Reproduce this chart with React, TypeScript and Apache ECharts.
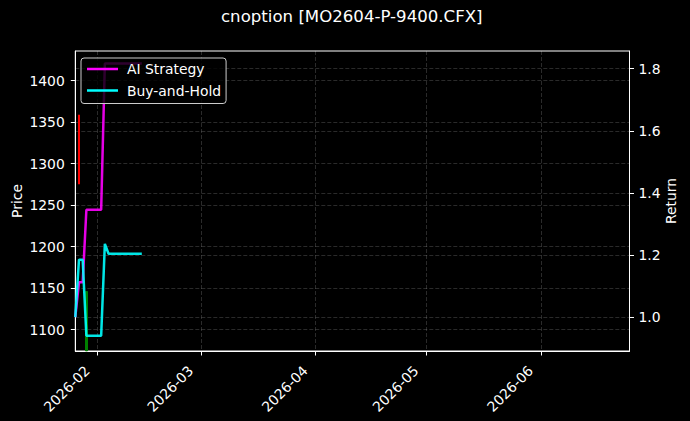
import { useEffect, useRef } from 'react'
import * as echarts from 'echarts'

const lineDates = [
  '2026-01-26', '2026-01-27', '2026-01-28', '2026-01-29', '2026-01-30',
  '2026-02-02', '2026-02-03', '2026-02-04', '2026-02-05', '2026-02-06',
  '2026-02-09', '2026-02-10', '2026-02-11', '2026-02-12', '2026-02-13',
]
const aiStrategy = [1.0, 1.112, 1.112, 1.346, 1.346, 1.346, 1.817, 1.817, 1.817, 1.817, 1.817, 1.817, 1.817, 1.817, 1.817]
const buyAndHold = [1.0, 1.185, 1.185, 0.94, 0.94, 0.94, 1.236, 1.204, 1.204, 1.204, 1.204, 1.204, 1.204, 1.204, 1.204]

const candleDates = ['2026-01-27', '2026-01-29']
const candleOpen = [1275.5, 1146]
const candleClose = [1358.7, 1074.5]
const candleLow = [1275.5, 1074.5]
const candleHigh = [1358.7, 1146]

const priceTicks = [1100, 1150, 1200, 1250, 1300, 1350, 1400]
const returnTicks = [1.0, 1.2, 1.4, 1.6, 1.8]
const monthTicks = ['2026-02-01', '2026-03-01', '2026-04-01', '2026-05-01', '2026-06-01']

const toTime = (s: string) => {
  const [y, m, d] = s.split('-').map(Number)
  return new Date(y, m - 1, d).getTime()
}

const FONT = 'DejaVu Sans'
const gridLine = { show: true, lineStyle: { color: 'rgba(255,255,255,0.28)', width: 0.6, type: [4, 2] as number[] } }
const tick = { show: true, length: 4.5, lineStyle: { color: '#fff' } }

export default function App() {
  const chartRef = useRef<HTMLDivElement>(null)

  useEffect(() => {
    document.body.style.margin = '0'
    if (!chartRef.current) return
    const chart = echarts.init(chartRef.current, null, { renderer: 'svg' })

    chart.setOption({
      animation: false,
      backgroundColor: '#000',
      textStyle: { fontFamily: FONT },
      title: {
        text: 'cnoption [MO2604-P-9400.CFX]',
        left: 221,
        top: 8,
        padding: 0,
        textStyle: { color: '#fff', fontSize: 16.6, fontWeight: 'normal', fontFamily: FONT },
      },
      legend: {
        orient: 'vertical',
        left: 81,
        top: 58,
        padding: [3, 5, 5, 6],
        itemGap: 5.5,
        itemWidth: 31,
        itemHeight: 2.5,
        icon: 'rect',
        backgroundColor: 'rgba(0,0,0,0.8)',
        borderColor: '#cccccc',
        borderWidth: 1,
        borderRadius: 3,
        textStyle: { color: '#fff', fontSize: 13.9, fontFamily: FONT, lineHeight: 16, padding: [0, 0, 0, 4] },
        data: ['AI Strategy', 'Buy-and-Hold'],
      },
      grid: {
        left: 75.3,
        right: 60.5,
        top: 51,
        bottom: 70,
        outerBoundsMode: 'none',
        containLabel: false,
        show: true,
        borderColor: '#fff',
        borderWidth: 1,
      },
      xAxis: {
        type: 'value',
        min: toTime('2026-01-26'),
        max: toTime('2026-06-25'),
        axisLine: { show: true, lineStyle: { color: '#fff' } },
        axisTick: { ...tick, customValues: monthTicks.map(toTime) },
        axisLabel: {
          color: '#fff',
          fontSize: 13.9,
          fontFamily: FONT,
          rotate: 45,
          margin: 7,
          padding: [0, 14.5, 0, 0],
          customValues: monthTicks.map(toTime),
          formatter: (v: number) => {
            const d = new Date(v)
            return `${d.getFullYear()}-${String(d.getMonth() + 1).padStart(2, '0')}`
          },
        },
        splitLine: gridLine,
      },
      yAxis: [
        {
          type: 'value',
          name: 'Price',
          nameLocation: 'middle',
          nameGap: 51,
          nameRotate: 90,
          nameMoveOverlap: false,
          nameTextStyle: { color: '#fff', fontSize: 13.9, fontFamily: FONT },
          min: 1074.3,
          max: 1435.8,
          position: 'left',
          axisLine: { show: true, lineStyle: { color: '#fff' } },
          axisTick: { ...tick, customValues: priceTicks },
          axisLabel: {
            color: '#fff',
            fontSize: 13.9,
            fontFamily: FONT,
            margin: 10.5,
            customValues: priceTicks,
            formatter: (v: number) => String(v),
          },
          splitLine: gridLine,
        },
        {
          type: 'value',
          name: 'Return',
          nameLocation: 'middle',
          nameGap: 34,
          nameRotate: 90,
          nameMoveOverlap: false,
          nameTextStyle: { color: '#fff', fontSize: 13.9, fontFamily: FONT },
          min: 0.891,
          max: 1.857,
          position: 'right',
          axisLine: { show: true, lineStyle: { color: '#fff' } },
          axisTick: { ...tick, customValues: returnTicks },
          axisLabel: {
            color: '#fff',
            fontSize: 13.9,
            fontFamily: FONT,
            margin: 9,
            customValues: returnTicks,
            formatter: (v: number) => v.toFixed(1),
          },
          splitLine: gridLine,
        },
      ],
      series: [
        {
          type: 'candlestick',
          yAxisIndex: 0,
          barWidth: 2,
          clip: true,
          itemStyle: { color: '#ff0000', color0: '#008000', borderColor: '#ff0000', borderColor0: '#008000', borderWidth: 1 },
          data: candleDates.map((d, i) => [toTime(d), candleOpen[i], candleClose[i], candleLow[i], candleHigh[i]]),
        },
        {
          name: 'AI Strategy',
          type: 'line',
          yAxisIndex: 1,
          showSymbol: false,
          color: '#ff00ff',
          lineStyle: { width: 2.5, opacity: 0.9 },
          data: lineDates.map((d, i) => [toTime(d), aiStrategy[i]]),
        },
        {
          name: 'Buy-and-Hold',
          type: 'line',
          yAxisIndex: 1,
          showSymbol: false,
          color: '#00ffff',
          lineStyle: { width: 2.5, opacity: 0.9 },
          data: lineDates.map((d, i) => [toTime(d), buyAndHold[i]]),
        },
      ],
    })

    return () => {
      chart.dispose()
    }
  }, [])

  return <div ref={chartRef} style={{ width: 690, height: 421, background: '#000' }} />
}
